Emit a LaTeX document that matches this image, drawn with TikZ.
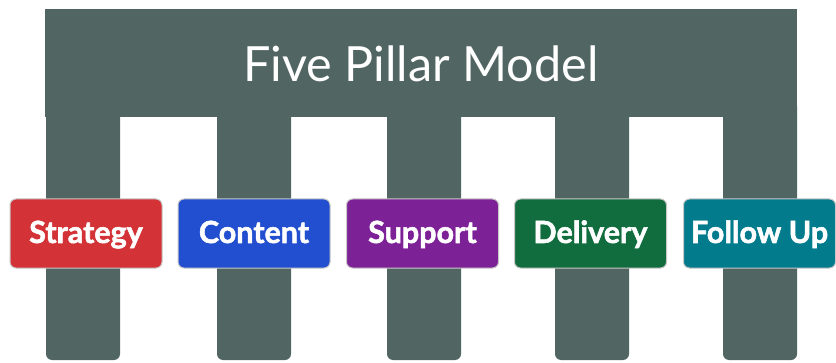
\documentclass[tikz,border=0pt]{standalone}
\usepackage{fontspec}
\setmainfont{Lato}
\newfontfamily\tagfont[BoldFeatures={FakeBold=1.8}]{Lato}
\definecolor{slate}{HTML}{516663}
\definecolor{tagred}{HTML}{D33236}
\definecolor{tagblue}{HTML}{224FCF}
\definecolor{tagpurple}{HTML}{7D2196}
\definecolor{taggreen}{HTML}{126D3E}
\definecolor{tagteal}{HTML}{027B8D}
\tikzset{
  pillar/.style={fill=slate,rounded corners=6pt},
  tag/.style={draw=black!22,line width=1pt,rounded corners=6pt,
    minimum width=152pt,minimum height=69pt,text height=19pt,text depth=0pt,
    text=white,font=\tagfont\fontsize{30.5}{33}\selectfont\bfseries},
}
\begin{document}
\begin{tikzpicture}[x=1pt,y=1pt]
\useasboundingbox (0,0) rectangle (836,362);
% pillars first, the beam covers their tops
\foreach \x in {46,217,387,555,723}
  \fill[pillar] (\x,2) rectangle +(74,260);
\fill[slate] (45,245) rectangle (797,353);
\node[anchor=base,text=white,font=\fontsize{48.5}{52}\selectfont] (title) at (421,280) {Five Pillar Model};
% the five tags
\foreach \name/\x/\col/\txt in {strategy/86/tagred/Strategy,content/254/tagblue/Content,
    support/422.5/tagpurple/Support,delivery/590.5/taggreen/Delivery,followup/759.5/tagteal/Follow Up}
  \node[tag,fill=\col] (\name) at (\x,128.5) {\txt};
\end{tikzpicture}
\end{document}
